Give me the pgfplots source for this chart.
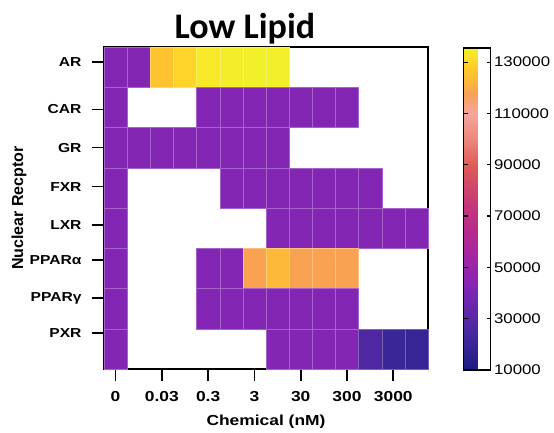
\documentclass[border=0pt]{standalone}
\usepackage{pgfplots}
\usepackage{pgfplotstable}
\pgfplotsset{compat=1.18}
\usepackage{fontspec}
\setmainfont{Liberation Sans}
\newfontfamily\wide[FakeStretch=1.2]{Liberation Sans}
\newfontfamily\titlefont{Carlito}

% column index (0 = 0 nM ... 13 = 10000 nM), row index (0 = AR ... 7 = PXR), signal
\pgfplotstableread{
x y v
0 0 43000
1 0 43000
2 0 126000
3 0 129500
4 0 133500
5 0 134500
6 0 135000
7 0 135000
0 1 43000
4 1 43000
5 1 43000
6 1 43000
7 1 43000
8 1 43000
9 1 43000
10 1 43000
0 2 43000
1 2 43000
2 2 43000
3 2 43000
4 2 43000
5 2 43000
6 2 43000
7 2 43000
0 3 43000
5 3 43000
6 3 43000
7 3 43000
8 3 43000
9 3 43000
10 3 43000
11 3 43000
0 4 43000
7 4 43000
8 4 43000
9 4 43000
10 4 43000
11 4 43000
12 4 43000
13 4 43000
0 5 43000
4 5 43000
5 5 43000
6 5 118000
7 5 123000
8 5 118000
9 5 118000
10 5 118000
0 6 43000
4 6 43000
5 6 43000
6 6 43000
7 6 43000
8 6 43000
9 6 43000
10 6 43000
0 7 43000
7 7 43000
8 7 43000
9 7 43000
10 7 43000
11 7 27000
12 7 21000
13 7 19500
}\cells

\begin{document}
\begin{tikzpicture}
\path[use as bounding box] (0,0) rectangle (554pt,432pt);
\begin{axis}[
    at={(104pt,63pt)}, anchor=south west,
    scale only axis, width=324pt, height=322pt,
    xmin=-0.5, xmax=13.5, ymin=-0.5, ymax=7.5,
    y dir=reverse,
    axis line style={line width=1.6pt},
    xtick={0,2,...,12},
    xticklabels={0,0.03,0.3,3,30,300,3000},
    ytick={-0.13,1.05,2.00,2.97,3.92,4.79,5.74,6.61},
    yticklabels={AR,CAR,GR,FXR,LXR,PPARα,PPARγ,PXR},
    xtick pos=bottom, ytick pos=left,
    tick align=outside, major tick length=12pt,
    tick style={line width=1.6pt, black},
    xticklabel style={font=\wide\bfseries\fontsize{14.5}{16}\selectfont, yshift=-7pt},
    yticklabel style={font=\wide\bfseries\fontsize{13}{15}\selectfont, xshift=-7pt},
    xlabel={Chemical (nM)},
    xlabel style={at={(axis description cs:0.5,-0.174)}, anchor=base,
        font=\wide\bfseries\fontsize{14.5}{16}\selectfont},
    ylabel={Nuclear Recptor},
    ylabel style={at={(axis description cs:-0.262,0.5)}, anchor=center,
        font=\bfseries\fontsize{16}{18}\selectfont},
    title={Low Lipid},
    title style={at={(axis description cs:0.435,1.0093)}, anchor=base,
        font=\titlefont\bfseries\fontsize{36}{40}\selectfont},
    colormap={lowlipid}{
        rgb255(10)=(28,26,128)
        rgb255(20)=(56,38,150)
        rgb255(30)=(88,40,166)
        rgb255(43)=(132,38,180)
        rgb255(55)=(165,38,160)
        rgb255(65)=(184,42,140)
        rgb255(75)=(198,56,120)
        rgb255(90)=(222,92,86)
        rgb255(100)=(236,135,125)
        rgb255(110)=(245,165,158)
        rgb255(118)=(249,163,82)
        rgb255(123)=(253,185,58)
        rgb255(127)=(255,198,42)
        rgb255(131)=(255,220,40)
        rgb255(135.5)=(240,242,42)},
    point meta min=10000, point meta max=135500,
    colorbar,
    colorbar style={
        at={(parent axis.north east)}, anchor=north west,
        xshift=27pt, yshift=-1pt,
        scale only axis, width=27pt, height=322pt,
        axis line style={line width=1.2pt},
        ytick={10000,30000,...,130000},
        scaled y ticks=false,
        yticklabel style={font=\wide\fontsize{14}{16}\selectfont,
            /pgf/number format/assume math mode=true,
            /pgf/number format/fixed,
            /pgf/number format/1000 sep={}},
        ytick pos=both, yticklabel pos=right,
        tick align=inside, major tick length=4pt,
        tick style={line width=1.2pt, black}},
]
\addplot[scatter, only marks, mark=square*, mark size=11.57pt,
    mark options={yscale=1.7395, line width=0.4pt},
    point meta=explicit,
    scatter/use mapped color={draw=mapped color!72!white, fill=mapped color}]
    table[x=x, y=y, meta=v] {\cells};
\end{axis}
\end{tikzpicture}
\end{document}
